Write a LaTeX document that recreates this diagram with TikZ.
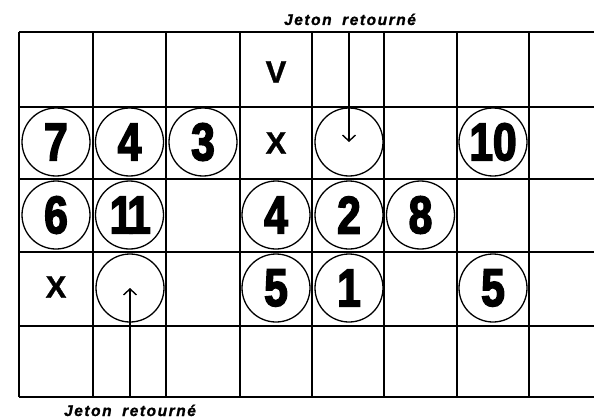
\documentclass[tikz,border=0pt]{standalone}
\usepackage{fontspec}
\usetikzlibrary{arrows.meta}
\newfontfamily\numfont[FakeStretch=0.8,FakeBold=3,RawFeature={-calt;-liga;-kern}]{Liberation Sans Bold}
\newfontfamily\boldsans[FakeBold=1]{Liberation Sans Bold}
\newfontfamily\lblfont[LetterSpace=10,WordSpace=1.8,FakeBold=1.2]{Liberation Sans Bold Italic}
\begin{document}
\begin{tikzpicture}[x=1pt,y=-1pt,
  gridline/.style={line width=1.5pt},
  numtxt/.style={font=\numfont\fontsize{53}{53}\selectfont},
  tok/.style={circle,draw,line width=1.3pt,minimum size=68pt,inner sep=0pt,numtxt},
  digit/.style={inner sep=0pt,numtxt},
  letterbox/.style={font=\boldsans\fontsize{31}{31}\selectfont,inner sep=0pt},
  lbl/.style={font=\lblfont\fontsize{15.5}{15.5}\selectfont,inner sep=0pt,anchor=base},
  arr/.style={-{Straight Barb[length=6pt,width=13pt,line width=1.4pt]},line width=1.4pt}]
\useasboundingbox (0,0) rectangle (594,420);
% grid
\foreach \x in {19,93,166,240,312,384,457,529}
  \draw[gridline] (\x,32) -- (\x,397);
\foreach \y in {32,107,179,252,326,397}
  \draw[gridline] (19,\y) -- (594,\y);
% row 0
\node[letterbox] (v) at (276,72) {V};
% row 1
\node[tok] (c10) at (56,142) {7};
\node[tok] (c11) at (129.5,142) {4};
\node[tok] (c12) at (203,142) {3};
\node[letterbox] (x1) at (276,143) {X};
\node[tok] (c14) at (349,142) {};
\node[tok] (c16) at (493,142) {10};
% row 2
\node[tok] (c20) at (56,215) {6};
\node[tok] (c21) at (129.5,215) {};
\node[digit] (c21a) at (121.5,215) {1};
\node[digit] (c21b) at (139,215) {1};
\node[tok] (c23) at (276,215) {4};
\node[tok] (c24) at (349,215) {2};
\node[tok] (c25) at (420.5,215) {8};
% row 3
\node[letterbox] (x2) at (56,287) {X};
\node[tok] (c31) at (130,288) {};
\node[tok] (c33) at (276,288) {5};
\node[tok] (c34) at (349,288) {1};
\node[tok] (c36) at (493,288) {5};
% labels and arrows
\node[lbl] (ltop) at (350,25) {Jeton retourné};
\node[lbl] (lbot) at (130,416) {Jeton retourné};
\coordinate (t1) at (349,32);
\coordinate (b1) at (130,397);
\draw[arr] (t1) -- (c14.center);
\draw[arr] (b1) -- (c31.center);
\end{tikzpicture}
\end{document}
